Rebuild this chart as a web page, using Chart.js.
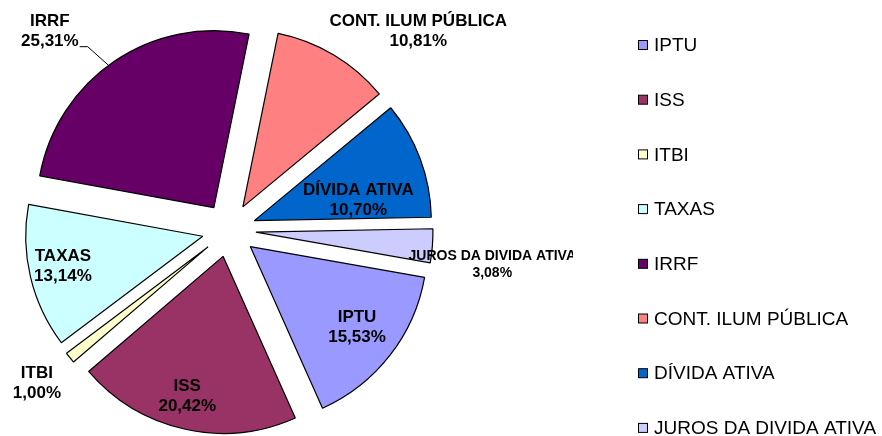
<!DOCTYPE html>
<html>
<head>
<meta charset="utf-8">
<script src="https://cdn.jsdelivr.net/npm/chart.js@4"></script>
<style>
  html, body { margin: 0; padding: 0; background: #fff; }
</style>
</head>
<body>
<canvas id="receitaPie" width="882" height="436"></canvas>
<script>
const categories = ['IPTU', 'ISS', 'ITBI', 'TAXAS', 'IRRF', 'CONT. ILUM PÚBLICA', 'DÍVIDA ATIVA', 'JUROS DA DIVIDA ATIVA'];
const percents = [15.53, 20.42, 1.00, 13.14, 25.31, 10.81, 10.70, 3.08];
const sliceColors = ['#9999FF', '#993366', '#FFFFCC', '#CCFFFF', '#660066', '#FF8080', '#0066CC', '#CCCCFF'];

// label placement: turn away from slice middle (deg), distance from centre as share of radius
const labelTurn = [-0.6, 1.4, 0.1, 1.1, -8, 12.7, 7.3, 3.0];
const labelDist = [0.91, 0.97, 1.39, 0.96, 1.51, 1.55, 0.75, 1.50];
const labelLeader = [false, false, false, false, true, false, false, false];

const explode = 27; // how far each slice is pulled out
const FONT = '"Liberation Sans", Arial, sans-serif';

const fmtPct = v => v.toFixed(2).replace('.', ',') + '%';

// pull every slice out along its middle angle (Excel style exploded pie)
const explodeSlices = {
    id: 'explodeSlices',
    afterDatasetUpdate(chart, args) {
        args.meta.data.forEach(arc => {
            const mid = (arc.startAngle + arc.endAngle) / 2;
            arc.x += Math.cos(mid) * explode;
            arc.y += Math.sin(mid) * explode;
        });
    }
};

const sliceLabels = {
    id: 'sliceLabels',
    afterDatasetsDraw(chart) {
        const ctx = chart.ctx;
        const area = chart.chartArea;
        const cx = (area.left + area.right) / 2;
        const cy = (area.top + area.bottom) / 2;
        const arcs = chart.getDatasetMeta(0).data;
        ctx.save();
        ctx.fillStyle = '#000';
        ctx.strokeStyle = '#000';
        ctx.textAlign = 'center';
        ctx.textBaseline = 'middle';
        arcs.forEach((arc, i) => {
            const mid = (arc.startAngle + arc.endAngle) / 2;
            const a = mid + labelTurn[i] * Math.PI / 180;
            const d = arc.outerRadius * labelDist[i];
            const x = cx + Math.cos(a) * d;
            const y = cy + Math.sin(a) * d;
            const small = i === categories.length - 1;
            const gap = small ? 8.5 : 10;
            ctx.font = 'bold ' + (small ? 14 : 17) + 'px ' + FONT;
            const pct = fmtPct(percents[i]);
            ctx.save();
            ctx.beginPath();
            ctx.rect(0, 0, 573, chart.height);
            ctx.clip();
            ctx.fillText(categories[i], x, y - gap);
            ctx.restore();
            ctx.fillText(pct, x, y + gap);
            if (labelLeader[i]) {
                const w = ctx.measureText(pct).width;
                const ea = mid - 2.4 * Math.PI / 180;
                const ex = arc.x + Math.cos(ea) * arc.outerRadius;
                const ey = arc.y + Math.sin(ea) * arc.outerRadius;
                ctx.lineWidth = 1;
                ctx.beginPath();
                ctx.moveTo(x + w / 2 + 1, y + gap + 5);
                ctx.lineTo(x + w / 2 + 9, y + gap + 5);
                ctx.lineTo(ex, ey);
                ctx.stroke();
            }
        });
        ctx.restore();
    }
};

const sideLegend = {
    id: 'sideLegend',
    afterDraw(chart) {
        const ctx = chart.ctx;
        ctx.save();
        ctx.font = '19px ' + FONT;
        ctx.textAlign = 'left';
        ctx.textBaseline = 'middle';
        categories.forEach((name, i) => {
            const y = 45 + i * 54.7;
            ctx.fillStyle = sliceColors[i];
            ctx.fillRect(638.5, y - 4.5, 9, 9);
            ctx.strokeStyle = '#000';
            ctx.lineWidth = 1;
            ctx.strokeRect(638.5, y - 4.5, 9, 9);
            ctx.fillStyle = '#000';
            ctx.fillText(name, 654, y + 1);
        });
        ctx.restore();
    }
};

new Chart(document.getElementById('receitaPie'), {
    type: 'pie',
    data: {
        labels: categories,
        datasets: [{
            data: percents,
            backgroundColor: sliceColors,
            borderColor: '#000',
            borderWidth: 1.2
        }]
    },
    options: {
        responsive: false,
        devicePixelRatio: 1,
        animation: false,
        events: [],
        rotation: 100,
        radius: 177,
        layout: { padding: { left: 38, top: 39, right: 462, bottom: 15 } },
        plugins: {
            legend: { display: false },
            tooltip: { enabled: false }
        }
    },
    plugins: [explodeSlices, sliceLabels, sideLegend]
});
</script>
</body>
</html>
